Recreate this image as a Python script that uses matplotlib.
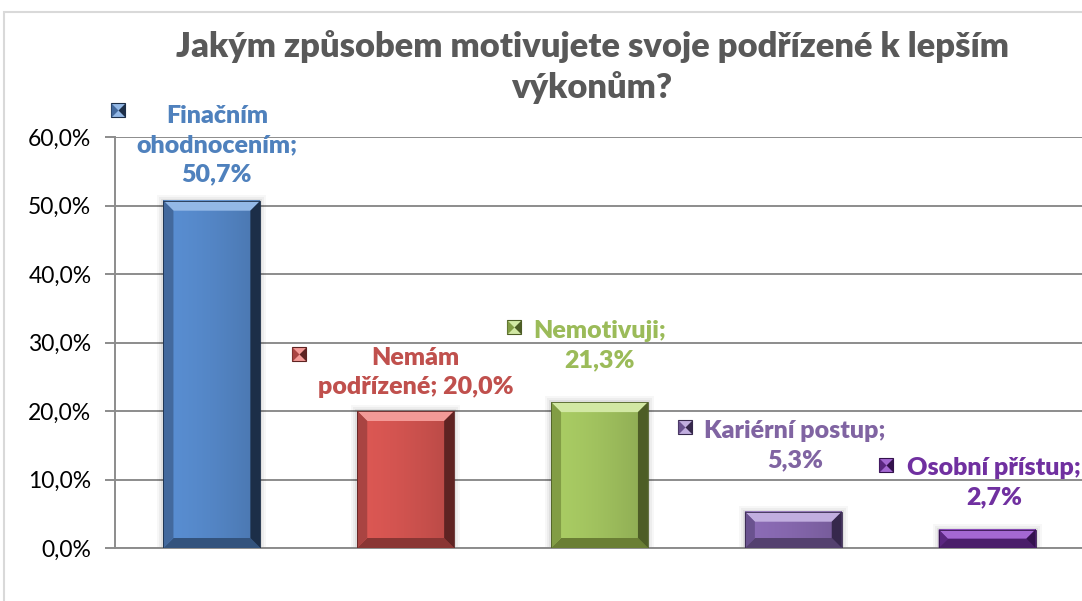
import matplotlib
matplotlib.use("Agg")
import matplotlib.pyplot as plt
from matplotlib.patches import Polygon, Rectangle
from matplotlib.path import Path
from matplotlib.colors import to_rgb
import numpy as np

# ---------------- data ----------------
title = "Jakým způsobem motivujete svoje podřízené k lepším\nvýkonům?"
categories = ["Finačním ohodnocením", "Nemám podřízené", "Nemotivuji",
              "Kariérní postup", "Osobní přístup"]
values = [50.7, 20.0, 21.3, 5.3, 2.7]
label_templates = ["Finačním\nohodnocením;\n{v}", "Nemám\npodřízené; {v}",
                   "Nemotivuji;\n{v}", "Kariérní postup;\n{v}", "Osobní přístup;\n{v}"]
yticks = [0, 10, 20, 30, 40, 50, 60]

# ---------------- style ----------------
base = ["#5486C6", "#D0534F", "#A0C15E", "#8466AC", "#7030A0"]
top_c = ["#93B8E6", "#F39A97", "#D2E8A4", "#C1AEDF", "#A468D2"]
left_c = ["#43699D", "#A94442", "#829D45", "#6A528F", "#5A2680"]
right_c = ["#1C2E48", "#5E2322", "#4D5D26", "#36284C", "#34124D"]
bot_c = ["#33537D", "#8A3634", "#6A7E34", "#54416F", "#4A1E6A"]
label_c = ["#4F81BD", "#C0504D", "#9BBB59", "#8064A2", "#7030A0"]
# label block centre offsets (category units, % units) and marker offsets
label_dx = [0.026, 0.05, 0.0, 0.01, 0.036]
label_y = [58.8, 25.6, 29.6, 15.0, 9.5]
marker_dx = [-0.485, -0.552, -0.439, -0.557, -0.521]
marker_y = [63.9, 28.3, 32.2, 17.7, 12.1]

FONT = ["Lato", "DejaVu Sans"]
plt.rcParams["font.family"] = FONT

W, H = 1082, 601
fig = plt.figure(figsize=(W / 100, H / 100), dpi=100)
fig.patch.set_facecolor("white")
AX_L, AX_R = 115, 1084
ax = fig.add_axes([AX_L / W, 1 - 548 / H, (AX_R - AX_L) / W, (548 - 137) / H])

# outer chart border
fig.patches.append(Rectangle((4 / W, -0.2), 1.2, (H - 12) / H + 0.2,
                             transform=fig.transFigure, fill=False,
                             edgecolor="#D9D9D9", lw=1.5, zorder=0))

x = np.arange(len(categories))
ax.set_xlim(-0.5, len(categories) - 0.5)
ax.set_ylim(0, 60)
bw = 0.5
bars = ax.bar(x, values, width=bw, color=base, zorder=3, linewidth=0)

# bevel overlays
bbox = ax.get_window_extent()
px_x = bbox.width / 5.0
px_y = bbox.height / 60.0
for i, b in enumerate(bars):
    x0, x1 = b.get_x(), b.get_x() + b.get_width()
    y0, y1 = 0, b.get_height()
    # soft shadow
    for k, a in [(6, 0.03), (4, 0.04), (2, 0.06)]:
        ax.add_patch(Rectangle((x0 - k / px_x, y0), (x1 - x0) + 2 * k / px_x,
                               (y1 - y0) + k / px_y, facecolor="black", alpha=a,
                               edgecolor="none", zorder=2, clip_on=False))
    hpx = (y1 - y0) * px_y
    bev = min(10.0, hpx / 2.0)
    dx = bev / px_x
    dy = bev / px_y
    # face gradient
    rgb = np.array(to_rgb(base[i]))
    t = np.linspace(0, 1, 64)
    fac = 1.06 - 0.18 * t ** 1.5
    fac[:6] = np.linspace(0.85, 1.06, 6)
    img = np.clip(rgb[None, None, :] * fac[None, :, None], 0, 1)
    ax.imshow(img, extent=(x0, x1, y0, y1), aspect="auto", zorder=3.5,
              interpolation="bilinear")
    polys = [
        ([(x0, y1), (x1, y1), (x1 - dx, y1 - dy), (x0 + dx, y1 - dy)], top_c[i]),
        ([(x0, y0), (x1, y0), (x1 - dx, y0 + dy), (x0 + dx, y0 + dy)], bot_c[i]),
        ([(x0, y0), (x0 + dx, y0 + dy), (x0 + dx, y1 - dy), (x0, y1)], left_c[i]),
        ([(x1, y0), (x1 - dx, y0 + dy), (x1 - dx, y1 - dy), (x1, y1)], right_c[i]),
    ]
    for pts, c in polys:
        ax.add_patch(Polygon(pts, closed=True, facecolor=c, edgecolor="none", zorder=4))
    ax.add_patch(Rectangle((x0, y0), x1 - x0, y1 - y0, fill=False,
                           edgecolor=right_c[i], lw=0.6, zorder=5))

ax.set_xlim(-0.5, len(categories) - 0.5)
ax.set_ylim(0, 60)

# grid and axes
ax.set_yticks(yticks)
ax.set_yticklabels([f"{t:.1f}%".replace(".", ",") for t in yticks])
ax.yaxis.grid(True, color="#8C8C8C", lw=1.4, zorder=0)
ax.set_axisbelow(True)
ax.set_xticks([])
for s in ["top", "right"]:
    ax.spines[s].set_visible(False)
ax.spines["left"].set_color("#8C8C8C")
ax.spines["left"].set_linewidth(1.4)
ax.spines["bottom"].set_color("#8C8C8C")
ax.spines["bottom"].set_linewidth(1.4)
ax.tick_params(axis="y", direction="out", length=7, width=1.4, color="#8C8C8C",
               labelsize=16.5, labelcolor="#000000", pad=10)
ax.patch.set_visible(False)

# title
fig.text(592 / W, 1 - 67 / H, title, ha="center", va="center", fontsize=24.8,
         fontweight="heavy", color="#595959", linespacing=1.3)

for i, v in enumerate(values):
    txt = label_templates[i].format(v=f"{v:.1f}%".replace(".", ","))
    ax.text(x[i] + label_dx[i], label_y[i], txt, ha="center", va="center",
            fontsize=18, fontweight="heavy", color=label_c[i], linespacing=1.4,
            clip_on=False, zorder=6)
    mx, my = x[i] + marker_dx[i], marker_y[i]
    ax.plot([mx], [my], marker="s", markersize=10, markerfacecolor=top_c[i],
            markeredgecolor=right_c[i], markeredgewidth=0.8, clip_on=False, zorder=6)
    ax.plot([mx], [my], marker=Path([(-1, -1), (0, 0), (-1, 1), (-1, -1)]),
            markersize=10, color=left_c[i], markeredgewidth=0, clip_on=False, zorder=7)
    ax.plot([mx], [my], marker=Path([(1, -1), (0, 0), (1, 1), (1, -1)]),
            markersize=10, color=right_c[i], markeredgewidth=0, clip_on=False, zorder=7)

fig.savefig("out.png", dpi=100)
